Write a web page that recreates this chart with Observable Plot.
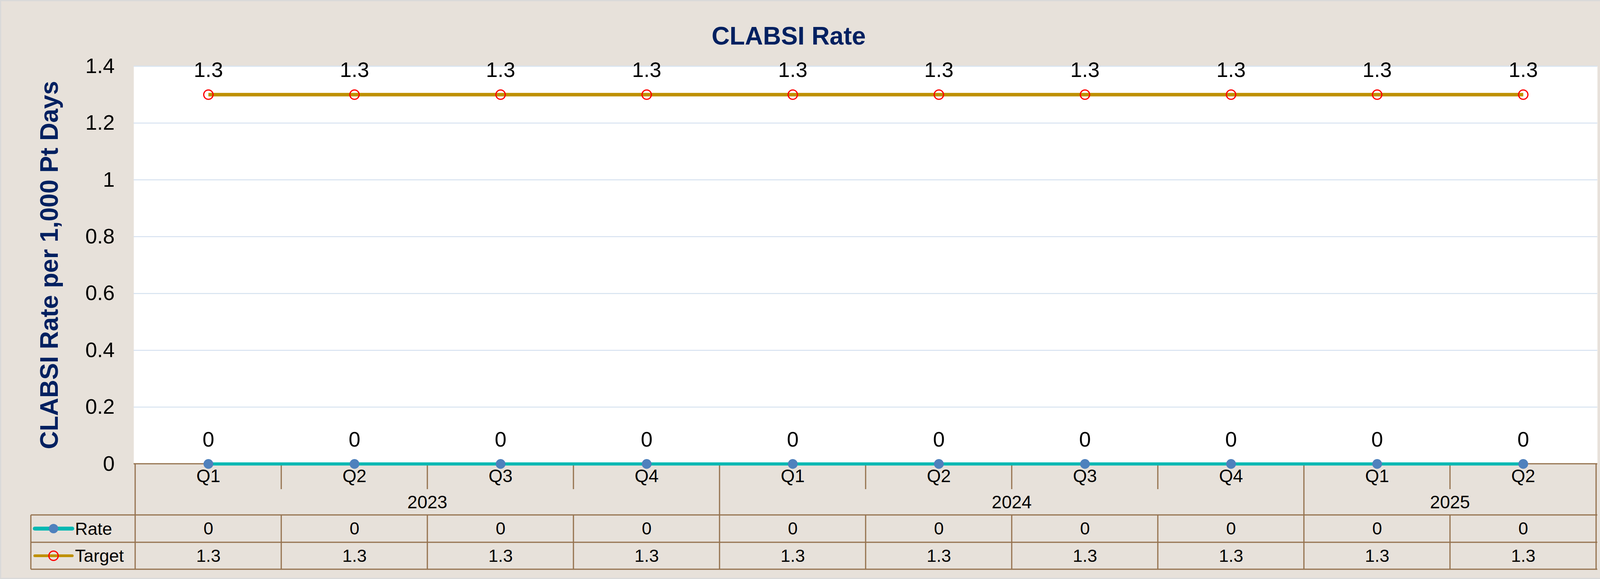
<!DOCTYPE html>
<html>
<head>
<meta charset="utf-8">
<script src="https://cdn.jsdelivr.net/npm/d3@7"></script>
<script src="https://cdn.jsdelivr.net/npm/@observablehq/plot@0.6"></script>
<style>
  html, body { margin: 0; padding: 0; background: #E7E1DA; overflow: hidden; }
  #chart { width: 4142px; height: 1482px; overflow: hidden; }
  #chart svg { display: block; }
</style>
</head>
<body>
<div id="chart"></div>
<script>
// ---- data ----
const quarters = ["Q1", "Q2", "Q3", "Q4", "Q1", "Q2", "Q3", "Q4", "Q1", "Q2"];
const years    = ["2023", "2023", "2023", "2023", "2024", "2024", "2024", "2024", "2025", "2025"];
const rate     = [0, 0, 0, 0, 0, 0, 0, 0, 0, 0];
const target   = [1.3, 1.3, 1.3, 1.3, 1.3, 1.3, 1.3, 1.3, 1.3, 1.3];
const yTicks   = [0, 0.2, 0.4, 0.6, 0.8, 1, 1.2, 1.4];
const title    = "CLABSI Rate";
const yLabel   = "CLABSI Rate per 1,000 Pt Days";
const seriesNames = ["Rate", "Target"];

const keys = quarters.map((q, i) => `${years[i]} ${q}`);
const data = keys.map((k, i) => ({key: k, q: quarters[i], year: years[i], rate: rate[i], target: target[i]}));

// ---- style ----
const BG = "#E7E1DA";
const NAVY = "#002060";
const GRID = "#D6E2F0";
const TABLE = "#94714D";
const RATE_LINE = "#00B8B2";
const RATE_DOT = "#4F81BD";
const TARGET_LINE = "#BF9000";
const TARGET_DOT = "#FF0000";
const FONT = "Arial, 'Liberation Sans', sans-serif";

const W = 4142, H = 1482;
const M = {top: 169, left: 342, right: 53, bottom: 295};

// table drawn through the x scale
function table(index, scales, values, dimensions) {
  const x = scales.x;
  const {width, height, marginLeft, marginRight, marginBottom} = dimensions;
  const xL = marginLeft, xR = width - marginRight, yb = height - marginBottom;
  const step = x(keys[1]) - x(keys[0]);
  const rowTop = yb + 131, row2 = yb + 201, rowBot = yb + 270, tickBot = yb + 65;
  const tLeft = xL - 263;
  const g = d3.create("svg:g");
  const line = (x1, y1, x2, y2, c = TABLE, w = 3) =>
    g.append("line").attr("x1", x1).attr("y1", y1).attr("x2", x2).attr("y2", y2)
      .attr("stroke", c).attr("stroke-width", w);
  // axis line
  line(xL, yb, xR, yb);
  // horizontal table rules
  line(tLeft, rowTop, xR, rowTop);
  line(tLeft, row2, xR, row2);
  line(tLeft, rowBot, xR, rowBot);
  line(tLeft, rowTop, tLeft, rowBot);
  // vertical boundaries
  for (let i = 0; i <= keys.length; i++) {
    const bx = i < keys.length ? x(keys[i]) - step / 2 : x(keys[keys.length - 1]) + step / 2;
    const yearEdge = i === 0 || i === keys.length || years[i] !== years[i - 1];
    if (yearEdge) line(bx, yb, bx, rowBot);
    else { line(bx, yb, bx, tickBot); line(bx, rowTop, bx, rowBot); }
  }
  // year labels
  const uniq = [...new Set(years)];
  for (const yr of uniq) {
    const idx = years.map((y, i) => y === yr ? i : -1).filter(i => i >= 0);
    const cx = (x(keys[idx[0]]) + x(keys[idx[idx.length - 1]])) / 2;
    g.append("text").attr("x", cx).attr("y", yb + 98).attr("dy", "0.35em")
      .attr("text-anchor", "middle").attr("font-size", 46).attr("fill", "black").text(yr);
  }
  // legend swatches in table
  const rows = [
    {name: seriesNames[0], y: (rowTop + row2) / 2, lc: RATE_LINE, lw: 10, dot: "fill"},
    {name: seriesNames[1], y: (row2 + rowBot) / 2, lc: TARGET_LINE, lw: 7, dot: "ring"}
  ];
  for (const r of rows) {
    line(tLeft + 10, r.y, tLeft + 106, r.y, r.lc, r.lw).attr("stroke-linecap", "round");
    const c = g.append("circle").attr("cx", tLeft + 58).attr("cy", r.y).attr("r", 12);
    if (r.dot === "fill") c.attr("fill", RATE_DOT);
    else c.attr("fill", "none").attr("stroke", TARGET_DOT).attr("stroke-width", 3);
    g.append("text").attr("x", tLeft + 113).attr("y", r.y).attr("dy", "0.35em")
      .attr("text-anchor", "start").attr("font-size", 45).attr("fill", "black").text(r.name);
  }
  // outer border
  g.append("rect").attr("x", 1.5).attr("y", 1.5).attr("width", width - 3).attr("height", height - 3)
    .attr("fill", "none").attr("stroke", "#D9D9D9").attr("stroke-width", 3);
  return g.node();
}

const chart = Plot.plot({
  width: W, height: H,
  marginTop: M.top, marginLeft: M.left, marginRight: M.right, marginBottom: M.bottom,
  style: {background: BG, fontFamily: FONT, color: "black", overflow: "visible"},
  x: {type: "point", domain: keys, padding: 0.5, axis: null},
  y: {domain: [0, 1.4]},
  marks: [
    Plot.frame({fill: "white", stroke: "none"}),
    Plot.ruleY(yTicks.filter(d => d > 0), {stroke: GRID, strokeWidth: 2.5}),
    Plot.axisY(yTicks, {tickSize: 0, tickPadding: 49, fontSize: 54, tickFormat: d => String(d), label: null}),
    // title & y label
    Plot.text([title], {frameAnchor: "top", dx: -197, dy: -76, lineAnchor: "middle", textAnchor: "middle",
      fontSize: 64, fontWeight: "bold", fill: NAVY}),
    Plot.text([yLabel], {frameAnchor: "left", dx: -215, rotate: -90, textAnchor: "middle", lineAnchor: "middle",
      fontSize: 64, fontWeight: "bold", fill: NAVY}),
    table,
    // Target series
    Plot.line(data, {x: "key", y: "target", stroke: TARGET_LINE, strokeWidth: 9, strokeLinecap: "butt"}),
    Plot.dot(data, {x: "key", y: "target", r: 12, stroke: TARGET_DOT, strokeWidth: 3, fill: "none"}),
    Plot.text(data, {x: "key", y: "target", text: d => String(d.target), dy: -62, lineAnchor: "middle", fontSize: 54, fill: "black"}),
    // Rate series
    Plot.line(data, {x: "key", y: "rate", stroke: RATE_LINE, strokeWidth: 8, strokeLinecap: "butt"}),
    Plot.dot(data, {x: "key", y: "rate", r: 12.5, fill: RATE_DOT, stroke: "none"}),
    Plot.text(data, {x: "key", y: "rate", text: d => String(d.rate), dy: -62, lineAnchor: "middle", fontSize: 54, fill: "black"}),
    // category labels and table values
    Plot.text(data, {x: "key", text: "q", frameAnchor: "bottom", dy: 32, lineAnchor: "middle", textAnchor: "middle", fontSize: 46, fill: "black"}),
    Plot.text(data, {x: "key", text: d => String(d.rate), frameAnchor: "bottom", dy: 166, lineAnchor: "middle", textAnchor: "middle", fontSize: 45, fill: "black"}),
    Plot.text(data, {x: "key", text: d => String(d.target), frameAnchor: "bottom", dy: 236, lineAnchor: "middle", textAnchor: "middle", fontSize: 45, fill: "black"})
  ]
});
document.getElementById("chart").appendChild(chart);
</script>
</body>
</html>
